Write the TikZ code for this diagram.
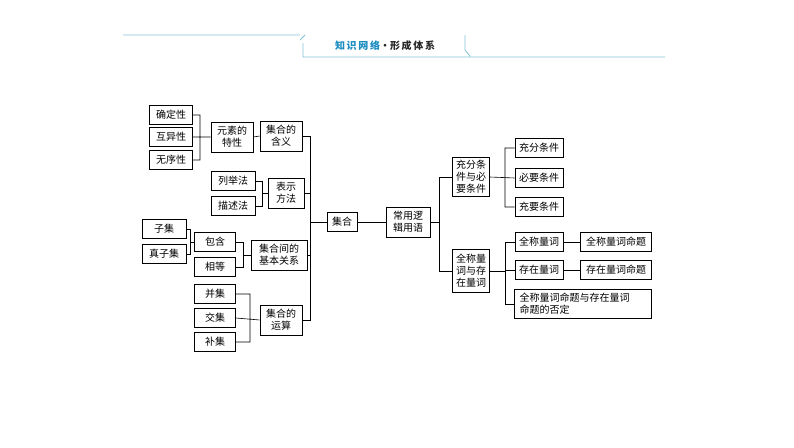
\documentclass[tikz,border=0pt]{standalone}
\usepackage{fontspec}
\setmainfont{Noto Sans CJK SC}
\begin{document}
\begin{tikzpicture}[x=1pt,y=-1pt,
  bx/.style={draw=black,line width=0.6pt,fill=white,inner sep=0pt,align=center,font=\fontsize{10}{12}\selectfont,
    minimum width=#1,minimum height=19pt},
  bx/.default=43pt,
  tb/.style={bx=#1,minimum height=30pt},
  tb/.default=42pt,
  ln/.style={line width=0.6pt}]
\useasboundingbox (0,0) rectangle (794,447);
% header
\draw[color={rgb,255:red,130;green,195;blue,212},line width=0.8pt]
  (123,35) -- (300,35) (303,43) -- (303,57) -- (665,57)
  (300,40) -- (305,35) (465,35) -- (465,50) -- (470,56);
\node[font=\fontsize{10}{12}\selectfont\bfseries] (hd) at (385,46)
  {\color[RGB]{26,140,192}知\,识\,网\,络\color[RGB]{40,40,40}·形\,成\,体\,系};
% left
\node[bx] (a1) at (171,115) {确定性};
\node[bx] (a2) at (171,137) {互异性};
\node[bx] (a3) at (171,160) {无序性};
\node[tb] (ys) at (232,137) {元素的\\特性};
\node[tb] (hy) at (281,136) {集合的\\含义};
\node[bx=44pt] (b1) at (233,181) {列举法};
\node[bx=44pt] (b2) at (233,206) {描述法};
\node[tb=36pt] (bs) at (286,193) {表示\\方法};
\node[bx=30pt] (jh) at (342,222) {集合};
\node[bx=44pt] (c1) at (164,229) {子集};
\node[bx=44pt] (c2) at (164,254) {真子集};
\node[bx=41pt] (c3) at (215,242) {包含};
\node[bx=41pt] (c4) at (215,267) {相等};
\node[tb=56pt] (gx) at (279,255) {集合间的\\基本关系};
\node[bx=41pt] (d1) at (215,294) {并集};
\node[bx=41pt] (d2) at (215,318) {交集};
\node[bx=41pt] (d3) at (215,342) {补集};
\node[tb] (ys2) at (281,320) {集合的\\运算};
% right
\node[tb=44pt] (cy) at (408,222) {常用逻\\辑用语};
\node[bx=37pt,minimum height=39pt] (e0) at (471,177) {充分条\\件与必\\要条件};
\node[bx=37pt,minimum height=43pt] (f0) at (471,271) {全称量\\词与存\\在量词};
\node[bx=48pt] (e1) at (539,148) {充分条件};
\node[bx=48pt] (e2) at (539,178) {必要条件};
\node[bx=48pt] (e3) at (539,207) {充要条件};
\node[bx=48pt] (f1) at (539,242) {全称量词};
\node[bx=48pt] (f2) at (539,270) {存在量词};
\node[bx=71pt] (g1) at (616,242) {全称量词命题};
\node[bx=71pt] (g2) at (616,270) {存在量词命题};
\node[bx=137pt,minimum height=29pt,align=left,text width=127pt] (f3) at (583,304) {全称量词命题与存在量词\\命题的否定};
% connectors
\draw[ln] (a1.east) -| (200,160) -- (a3.east) (a2.east) -- (ys.west) (ys.east) -- (hy.west);
\draw[ln] (b1.east) -| (262,206) -- (b2.east) (262,193) -- (bs.west);
\draw[ln] (c1.east) -| (190,254) -- (c2.east) (190,242) -- (c3.west);
\draw[ln] (c3.east) -| (243,267) -- (c4.east) (243,255) -- (gx.west);
\draw[ln] (d1.east) -| (250,342) -- (d3.east) (d2.east) -- (ys2.west);
\draw[ln] (hy.east) -| (310,320) -- (ys2.east) (bs.east) -- (310,193) (gx.east) -- (310,255) (310,222) -- (jh.west);
\draw[ln] (jh.east) -- (cy.west);
\draw[ln] (cy.east) -- (439,222) (e0.west) -| (439,271) -- (f0.west);
\draw[ln] (e1.west) -| (505,207) -- (e3.west) (e0.east) -- (e2.west);
\draw[ln] (f1.west) -| (505,304) -- (f3.west) (f0.east) -- (505,271) (505,270) -- (f2.west);
\draw[ln] (f1.east) -- (g1.west) (f2.east) -- (g2.west);
\end{tikzpicture}
\end{document}
